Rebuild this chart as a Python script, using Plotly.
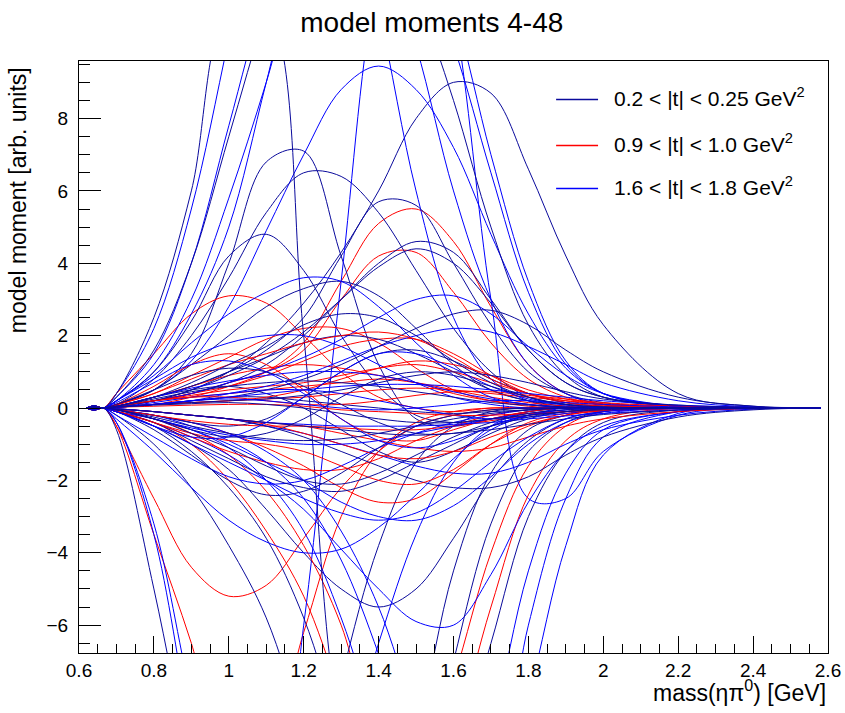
import plotly.graph_objects as go

MASS = [0.62, 0.64, 0.665, 0.7, 0.8, 0.9, 1.0, 1.1, 1.2, 1.3, 1.4, 1.5, 1.6, 1.7, 1.8, 1.9, 2.0, 2.2, 2.4, 2.58]

LABELS = ["0.2 &lt; |t| &lt; 0.25 GeV<sup>2</sup>",
          "0.9 &lt; |t| &lt; 1.0 GeV<sup>2</sup>",
          "1.6 &lt; |t| &lt; 1.8 GeV<sup>2</sup>"]

# 0.2 < |t| < 0.25
T1_CURVES = [
    [0, 0.06, 0, 0.05, 0.2, 0.5, 1.0, 1.8, 2.9, 4.3, 6.0, 8.0, 9.0, 8.7, 6.6, 4.2, 2.3, 0.4, 0.05, 0],
    [0, 0.06, 0, 0.1, 0.5, 1.5, 4.0, 6.8, 7.1, 4.2, 1.2, -0.3, -0.5, -0.3, -0.1, 0, 0, 0, 0, 0],
    [0, 0.06, 0, 0.1, 0.8, 2.0, 3.6, 5.4, 6.5, 6.4, 5.4, 3.8, 2.2, 1.0, 0.3, 0.1, 0, 0, 0, 0],
    [0, 0.05, 0, 0.05, 0.3, 0.6, 1.0, 1.6, 2.5, 4.2, 5.7, 5.6, 4.0, 2.3, 1.0, 0.4, 0.15, 0, 0, 0],
    [0, 0.06, 0, 0.2, 1.0, 2.4, 4.2, 4.8, 3.8, 2.0, 0.6, -0.2, -0.4, -0.3, -0.1, 0, 0, 0, 0, 0],
    [0, 0.05, 0, 0.05, 0.2, 0.4, 0.7, 1.2, 2.0, 3.0, 4.0, 4.6, 4.3, 3.0, 1.6, 0.7, 0.3, 0.05, 0, 0],
    [0, -0.06, 0, -0.1, -0.5, -1.0, -1.7, -2.8, -4.0, -5.0, -5.5, -5.0, -3.6, -2.0, -0.9, -0.3, -0.1, 0, 0, 0],
    [0, -0.06, 0, -0.6, -5.0, -10.0, -14.0, -15.0, -12.0, -7.5, -3.8, -1.5, -0.5, -0.1, 0, 0, 0, 0, 0, 0],
    [0, -0.05, 0, -0.1, -0.5, -1.2, -2.2, -3.6, -5.8, -9.0, -12.0, -12.5, -10.0, -6.5, -3.0, -1.2, -0.4, -0.05, 0, 0],
    [0, 0.06, 0, 0.3, 1.6, 4.0, 7.5, 11.0, 14.0, 15.0, 14.0, 11.5, 8.5, 5.0, 2.3, 0.9, 0.3, 0.05, 0, 0],
    [0, 0.06, 0, 0.4, 2.5, 6.0, 11.0, 11.0, 2.0, -9.0, -12.0, -9.0, -4.5, -1.8, -0.6, -0.2, 0, 0, 0, 0],
    [0, -0.05, 0, -0.2, -1.0, -2.2, -3.8, -5.8, -9.0, -13.0, -14.0, -11.5, -7.0, -3.2, -1.2, -0.4, -0.1, 0, 0, 0],
    [0, 0.05, 0, 0.1, 0.5, 1.2, 2.0, 2.8, 3.3, 3.5, 3.1, 2.2, 1.2, 0.5, 0.2, 0.05, 0, 0, 0, 0],
    [0, 0.05, 0, 0.05, 0.3, 0.6, 1.0, 1.4, 1.8, 2.0, 1.9, 1.5, 1.0, 0.5, 0.2, 0.1, 0, 0, 0, 0],
    [0, -0.05, 0, -0.1, -0.4, -0.9, -1.4, -1.9, -2.2, -2.3, -2.0, -1.5, -1.0, -0.5, -0.2, -0.1, 0, 0, 0, 0],
    [0, 0.04, 0, 0.05, 0.3, 0.5, 0.6, 0.4, 0, -0.6, -1.2, -1.5, -1.2, -0.7, -0.3, -0.1, 0, 0, 0, 0],
    [0, -0.04, 0, -0.05, -0.2, -0.4, -0.5, -0.3, 0.3, 1.0, 1.5, 1.6, 1.3, 0.8, 0.4, 0.15, 0.05, 0, 0, 0],
    [0, 0.03, 0, 0.02, 0.1, 0.2, 0.3, 0.3, 0.2, 0.1, 0, -0.1, -0.15, -0.1, -0.05, 0, 0, 0, 0, 0],
    [0, 0.03, 0, 0.02, 0.1, 0.2, 0.3, 0.5, 0.8, 1.2, 1.7, 2.2, 2.6, 2.7, 2.3, 1.6, 1.0, 0.3, 0.05, 0],
    [0, -0.03, 0, -0.02, -0.1, -0.2, -0.3, -0.5, -0.8, -1.2, -1.6, -2.0, -2.2, -2.2, -1.9, -1.3, -0.8, -0.25, -0.05, 0],
    [0, 0.04, 0, 0.05, 0.2, 0.5, 0.9, 1.4, 2.1, 3.0, 3.9, 4.4, 4.0, 2.9, 1.6, 0.7, 0.3, 0.05, 0, 0],
    [0, -0.04, 0, -0.1, -0.6, -1.3, -2.0, -2.4, -2.3, -1.8, -1.1, -0.5, -0.2, -0.05, 0, 0, 0, 0, 0, 0],
    [0, 0.03, 0, 0.05, 0.25, 0.45, 0.6, 0.7, 0.75, 0.7, 0.6, 0.45, 0.3, 0.15, 0.08, 0.03, 0, 0, 0, 0],
    [0, -0.03, 0, -0.05, -0.25, -0.5, -0.7, -0.85, -0.9, -0.85, -0.7, -0.5, -0.3, -0.15, -0.05, 0, 0, 0, 0, 0],
    [0, 0.02, 0, 0.03, 0.1, 0.15, 0.2, 0.25, 0.35, 0.5, 0.7, 0.9, 1.0, 0.9, 0.7, 0.45, 0.25, 0.08, 0.02, 0],
    [0, -0.02, 0, -0.03, -0.1, -0.2, -0.3, -0.4, -0.5, -0.6, -0.7, -0.75, -0.7, -0.6, -0.45, -0.3, -0.18, -0.06, -0.01, 0],
    [0, 0.04, 0, 0.1, 0.5, 0.9, 1.1, 1.0, 0.6, 0.1, -0.4, -0.7, -0.7, -0.5, -0.25, -0.1, -0.03, 0, 0, 0],
    [0, -0.03, 0, -0.05, -0.3, -0.6, -0.8, -0.7, -0.3, 0.3, 0.8, 1.0, 0.9, 0.6, 0.3, 0.1, 0.03, 0, 0, 0],
    [0, 0.02, 0, 0.02, 0.08, 0.12, 0.15, 0.1, 0.0, -0.15, -0.3, -0.4, -0.4, -0.3, -0.2, -0.1, -0.05, 0, 0, 0],
    [0, 0.03, 0, 0.05, 0.3, 0.7, 1.2, 1.7, 2.3, 2.6, 2.5, 2.0, 1.3, 0.7, 0.3, 0.1, 0.03, 0, 0, 0],
    [0, -0.03, 0, -0.05, -0.3, -0.7, -1.1, -1.6, -2.0, -2.1, -1.8, -1.3, -0.8, -0.4, -0.15, -0.05, 0, 0, 0, 0],
]

# 0.9 < |t| < 1.0
T2_CURVES = [
    [0, 0.05, 0, 0.05, 0.1, 0.3, 0.6, 1.0, 1.8, 3.5, 5.1, 5.5, 4.6, 2.8, 1.2, 0.4, 0.1, 0, 0, 0],
    [0, 0.05, 0, 0.05, 0.2, 0.4, 0.7, 1.0, 1.6, 3.0, 4.2, 4.3, 3.2, 1.8, 0.8, 0.3, 0.1, 0, 0, 0],
    [0, 0.06, 0, 0.4, 1.5, 2.6, 3.1, 2.9, 2.0, 1.0, 0.3, 0, -0.1, 0, 0, 0, 0, 0, 0, 0],
    [0, -0.06, 0, -0.5, -2.5, -4.4, -5.2, -4.9, -3.6, -2.2, -1.2, -0.5, -0.2, -0.05, 0, 0, 0, 0, 0, 0],
    [0, -0.06, 0, -0.5, -3.5, -6.5, -10.0, -9.5, -6.2, -3.0, -1.2, -0.4, -0.1, 0, 0, 0, 0, 0, 0, 0],
    [0, -0.05, 0, -0.1, -0.4, -1.0, -2.0, -3.4, -5.2, -8.0, -11.0, -10.5, -7.5, -4.0, -1.6, -0.5, -0.1, 0, 0, 0],
    [0, -0.05, 0, -0.1, -0.3, -0.7, -1.3, -2.3, -3.8, -6.0, -9.5, -11.0, -9.0, -5.5, -2.4, -0.9, -0.3, 0, 0, 0],
    [0, 0.05, 0, 0.1, 0.4, 0.9, 1.4, 1.9, 2.2, 2.2, 1.8, 1.1, 0.5, 0.2, 0.05, 0, 0, 0, 0, 0],
    [0, 0.04, 0, 0.05, 0.2, 0.4, 0.6, 0.9, 1.3, 1.7, 1.9, 1.9, 1.5, 0.9, 0.4, 0.15, 0.05, 0, 0, 0],
    [0, -0.05, 0, -0.05, -0.2, -0.4, -0.7, -1.1, -1.6, -2.2, -2.6, -2.5, -1.8, -1.0, -0.4, -0.15, -0.05, 0, 0, 0],
    [0, -0.04, 0, -0.1, -0.4, -0.8, -1.2, -1.5, -1.7, -1.7, -1.4, -0.9, -0.5, -0.2, -0.05, 0, 0, 0, 0, 0],
    [0, 0.03, 0, 0.05, 0.3, 0.6, 0.9, 1.1, 1.2, 1.1, 0.9, 0.7, 0.4, 0.2, 0.1, 0, 0, 0, 0, 0],
    [0, 0.03, 0, 0.05, 0.2, 0.3, 0.4, 0.5, 0.6, 0.7, 0.8, 0.7, 0.5, 0.3, 0.15, 0.05, 0, 0, 0, 0],
    [0, -0.03, 0, -0.02, -0.1, -0.2, -0.3, -0.4, -0.5, -0.7, -0.9, -1.1, -1.2, -1.1, -0.8, -0.5, -0.3, -0.1, -0.02, 0],
    [0, 0.03, 0, 0.02, 0.1, 0.15, 0.2, 0.25, 0.3, 0.4, 0.5, 0.55, 0.5, 0.4, 0.3, 0.2, 0.12, 0.05, 0.02, 0],
    [0, 0.04, 0, 0.1, 0.6, 1.2, 1.5, 1.2, 0.5, -0.3, -0.8, -0.9, -0.6, -0.3, -0.1, 0, 0, 0, 0, 0],
    [0, 0.03, 0, 0.04, 0.2, 0.35, 0.5, 0.6, 0.7, 0.9, 1.1, 1.2, 1.0, 0.7, 0.4, 0.2, 0.08, 0.02, 0, 0],
    [0, -0.03, 0, -0.04, -0.2, -0.35, -0.45, -0.5, -0.5, -0.55, -0.6, -0.6, -0.5, -0.35, -0.2, -0.1, -0.04, 0, 0, 0],
    [0, 0.02, 0, 0.03, 0.1, 0.15, 0.2, 0.3, 0.5, 0.8, 1.1, 1.3, 1.2, 0.9, 0.5, 0.25, 0.1, 0.02, 0, 0],
    [0, -0.02, 0, -0.03, -0.1, -0.2, -0.3, -0.45, -0.7, -1.0, -1.3, -1.4, -1.2, -0.8, -0.45, -0.2, -0.08, 0, 0, 0],
    [0, 0.03, 0, 0.05, 0.2, 0.3, 0.3, 0.2, 0.1, 0.1, 0.2, 0.35, 0.45, 0.45, 0.35, 0.25, 0.15, 0.05, 0.01, 0],
    [0, 0.04, 0, 0.08, 0.4, 0.8, 1.2, 1.5, 1.8, 2.0, 2.1, 1.9, 1.4, 0.8, 0.4, 0.15, 0.05, 0, 0, 0],
    [0, -0.04, 0, -0.08, -0.4, -0.7, -0.9, -1.0, -1.2, -1.6, -2.0, -2.1, -1.7, -1.0, -0.5, -0.2, -0.06, 0, 0, 0],
    [0, 0.02, 0, 0.02, 0.05, 0.08, 0.1, 0.1, 0.05, -0.05, -0.1, -0.15, -0.2, -0.2, -0.15, -0.1, -0.05, -0.02, 0, 0],
]

# 1.6 < |t| < 1.8
T3_CURVES = [
    [0, 0.06, 0, 0.1, 0.5, 1.3, 2.8, 4.9, 7.0, 8.8, 9.45, 8.8, 7.2, 4.8, 2.6, 1.1, 0.4, 0.05, 0, 0],
    [0, 0.06, 0, 0.4, 2.2, 5.5, 10.2, 15.0, 17.0, 15.0, 11.0, 6.0, 2.5, 0.8, 0.2, 0, 0, 0, 0, 0],
    [0, 0.06, 0, 0.3, 1.5, 4.0, 7.8, 11.5, 14.0, 15.0, 14.5, 12.5, 10.0, 6.5, 3.2, 1.2, 0.4, 0.05, 0, 0],
    [0, 0.05, 0, 0.2, 1.0, 2.6, 5.0, 9.0, 13.0, 15.0, 15.0, 13.5, 11.0, 7.0, 3.5, 1.3, 0.4, 0.05, 0, 0],
    [0, 0.05, 0, 0.2, 1.2, 3.0, 5.8, 9.0, 12.5, 14.0, 13.0, 10.0, 6.0, 3.0, 1.2, 0.4, 0.1, 0, 0, 0],
    [0, -0.06, 0, -0.4, -3.5, -9.0, -14.0, -13.0, -6.0, 3.5, 12.0, 15.0, 11.0, 3.0, -2.5, -2.5, -1.2, -0.2, 0, 0],
    [0, -0.06, 0, -0.4, -3.2, -8.0, -12.0, -14.0, -13.0, -10.0, -6.5, -3.5, -1.5, -0.5, -0.1, 0, 0, 0, 0, 0],
    [0, -0.05, 0, -0.1, -0.4, -0.8, -1.3, -2.0, -2.8, -3.9, -5.0, -5.9, -6.0, -4.6, -2.6, -1.2, -0.5, -0.1, 0, 0],
    [0, -0.05, 0, -0.1, -0.3, -0.6, -1.1, -2.0, -3.4, -5.8, -9.0, -12.0, -12.5, -9.0, -4.5, -1.8, -0.6, -0.1, 0, 0],
    [0, -0.04, 0, -0.05, -0.2, -0.5, -0.9, -1.5, -2.5, -4.2, -6.8, -10.0, -12.0, -11.0, -6.0, -2.5, -0.8, -0.1, 0, 0],
    [0, -0.04, 0, -0.05, -0.2, -0.4, -0.7, -1.2, -2.0, -3.4, -5.5, -8.5, -11.0, -11.5, -8.0, -3.8, -1.3, -0.15, 0, 0],
    [0, 0.04, 0, 0.05, 0.2, 0.4, 0.7, 1.0, 1.4, 1.9, 2.5, 3.0, 3.1, 2.6, 1.7, 0.9, 0.4, 0.05, 0, 0],
    [0, 0.05, 0, 0.2, 0.8, 1.4, 1.8, 2.0, 2.0, 1.7, 1.2, 0.7, 0.3, 0.1, 0, 0, 0, 0, 0, 0],
    [0, -0.05, 0, -0.2, -0.8, -1.4, -1.9, -2.1, -2.0, -1.6, -1.1, -0.7, -0.4, -0.2, -0.05, 0, 0, 0, 0, 0],
    [0, -0.04, 0, -0.05, -0.3, -0.6, -1.0, -1.5, -2.0, -2.6, -3.0, -3.1, -2.7, -1.9, -1.0, -0.4, -0.15, 0, 0, 0],
    [0, 0.05, 0, 0.2, 0.9, 1.8, 2.6, 3.2, 3.6, 3.5, 2.8, 1.8, 0.9, 0.3, 0.1, 0, 0, 0, 0, 0],
    [0, 0.03, 0, 0.02, 0.1, 0.2, 0.4, 0.6, 0.9, 1.3, 1.7, 2.0, 2.2, 2.1, 1.7, 1.2, 0.7, 0.2, 0.03, 0],
    [0, -0.03, 0, -0.02, -0.1, -0.2, -0.3, -0.5, -0.7, -1.0, -1.3, -1.6, -1.8, -1.8, -1.5, -1.0, -0.6, -0.2, -0.03, 0],
    [0, 0.03, 0, 0.03, 0.15, 0.3, 0.4, 0.5, 0.5, 0.4, 0.2, 0, -0.2, -0.3, -0.25, -0.15, -0.08, -0.02, 0, 0],
    [0, -0.05, 0, -0.3, -1.2, -2.2, -3.1, -3.7, -4.0, -3.9, -3.3, -2.4, -1.4, -0.6, -0.2, 0, 0, 0, 0, 0],
    [0, 0.03, 0, 0.05, 0.3, 0.55, 0.75, 0.9, 1.0, 1.0, 0.9, 0.7, 0.45, 0.25, 0.1, 0.03, 0, 0, 0, 0],
    [0, -0.03, 0, -0.05, -0.3, -0.55, -0.75, -0.9, -1.0, -1.0, -0.9, -0.7, -0.5, -0.3, -0.15, -0.05, 0, 0, 0, 0],
    [0, 0.02, 0, 0.02, 0.1, 0.2, 0.3, 0.4, 0.5, 0.6, 0.65, 0.65, 0.6, 0.5, 0.4, 0.3, 0.2, 0.08, 0.02, 0],
    [0, -0.02, 0, -0.02, -0.1, -0.2, -0.3, -0.4, -0.45, -0.5, -0.5, -0.5, -0.45, -0.4, -0.3, -0.22, -0.15, -0.05, -0.01, 0],
    [0, 0.04, 0, 0.15, 0.7, 1.2, 1.3, 1.0, 0.4, -0.3, -0.9, -1.1, -0.9, -0.5, -0.2, -0.05, 0, 0, 0, 0],
    [0, -0.04, 0, -0.1, -0.5, -0.8, -0.8, -0.4, 0.3, 1.0, 1.5, 1.5, 1.1, 0.6, 0.25, 0.08, 0.02, 0, 0, 0],
    [0, 0.02, 0, 0.02, 0.1, 0.2, 0.25, 0.2, 0.1, 0, -0.05, 0, 0.1, 0.2, 0.2, 0.15, 0.1, 0.03, 0, 0],
    [0, -0.04, 0, -0.1, -0.5, -1.0, -1.5, -2.0, -2.5, -2.9, -3.1, -2.9, -2.3, -1.5, -0.8, -0.3, -0.1, 0, 0, 0],
]

COLORS = ["#0a0a9c", "#ff0000", "#0000ff"]
ALL = [T1_CURVES, T2_CURVES, T3_CURVES]

fig = go.Figure()
nmax = max(len(c) for c in ALL)
for i in range(nmax):
    for k, curves in enumerate(ALL):
        if i < len(curves):
            fig.add_trace(go.Scatter(
                x=MASS, y=curves[i], mode="lines",
                line=dict(color=COLORS[k], width=1, shape="spline", smoothing=1.0),
                name=LABELS[k], showlegend=False, hoverinfo="skip"))

# legend drawn as line samples + text inside the frame (top right)
LEG_Y = [0.93497, 0.85726, 0.78463]
shapes = []
annotations = []
for k in range(3):
    shapes.append(dict(type="line", xref="paper", yref="paper", x0=0.637, x1=0.693,
                       y0=LEG_Y[k], y1=LEG_Y[k], layer="above",
                       line=dict(color=COLORS[k], width=1.3)))
    annotations.append(dict(text=LABELS[k], xref="paper", yref="paper", x=0.711, y=LEG_Y[k] + 0.004,
                            xanchor="left", yanchor="middle", showarrow=False, font=dict(size=21)))

annotations += [
    dict(text="mass(ηπ<sup>0</sup>) [GeV]", xref="paper", yref="paper", x=1.0, y=-0.064,
         xanchor="right", yanchor="middle", showarrow=False, font=dict(size=23)),
    dict(text="model moment [arb. units]", xref="paper", yref="paper", x=-0.0814, y=0.765,
         xanchor="center", yanchor="middle", textangle=-90, showarrow=False, font=dict(size=23)),
]

FONT = "Liberation Sans, Arial, Helvetica, sans-serif"
fig.update_layout(
    width=845, height=713,
    margin=dict(l=79, r=17, t=61, b=60, autoexpand=False),
    paper_bgcolor="white", plot_bgcolor="white",
    font=dict(family=FONT, size=19, color="black"),
    title=dict(text="model moments 4-48", xref="container", x=0.511, xanchor="center",
               yref="container", y=0.969, yanchor="middle", font=dict(size=28)),
    showlegend=False,
    xaxis=dict(range=[0.6, 2.6], showgrid=False, zeroline=False, showline=True, linecolor="black",
               linewidth=1, mirror=True, ticks="inside", ticklen=17, tickcolor="black", dtick=0.2,
               tick0=0.6, tickfont=dict(size=19), automargin=False,
               minor=dict(dtick=0.05, ticks="inside", ticklen=9, tickcolor="black")),
    yaxis=dict(range=[-6.77, 9.59], showgrid=False, zeroline=False, showline=True, linecolor="black",
               linewidth=1, mirror=True, ticks="inside", ticklen=22, tickcolor="black", dtick=2,
               tick0=0, tickfont=dict(size=19), ticklabelstandoff=6, automargin=False,
               minor=dict(dtick=0.5, ticks="inside", ticklen=11, tickcolor="black")),
    shapes=shapes,
    annotations=annotations,
)

fig.write_html("out.html",
               config={"displayModeBar": False, "staticPlot": True},
               post_script="document.body.style.margin='0';"
                           "document.documentElement.style.overflow='hidden';")
